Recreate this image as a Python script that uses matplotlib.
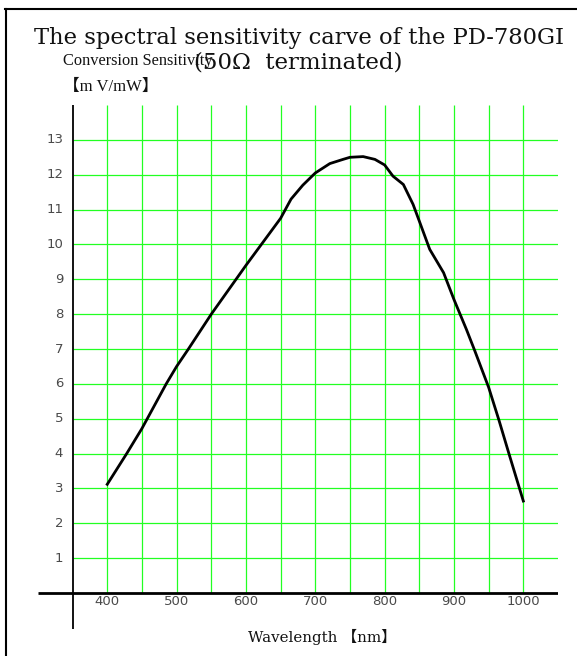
import numpy as np
import matplotlib
matplotlib.use('Agg')
import matplotlib.pyplot as plt
from matplotlib.lines import Line2D

# curve (wavelength nm, sensitivity mV/mW)
wavelength = [400, 428, 450, 485, 500, 517, 550, 600, 650, 665, 682,
              700, 721, 740, 750, 769, 786, 800, 812, 827, 841, 850, 865, 885,
              900, 918, 930, 950, 965, 980, 1000]
sensitivity = [3.12, 4.0, 4.72, 6.0, 6.5, 7.0, 8.0, 9.4, 10.75, 11.3, 11.7,
               12.05, 12.32, 12.44, 12.5, 12.52, 12.44, 12.28, 11.96, 11.72, 11.15, 10.67, 9.86, 9.19,
               8.42, 7.56, 6.95, 5.9, 4.95, 3.95, 2.64]

x_ticks = [400, 500, 600, 700, 800, 900, 1000]
y_ticks = list(range(1, 14))
x_grid = list(range(400, 1001, 50))

W, H = 577, 656
fig = plt.figure(figsize=(W / 100, H / 100), dpi=100)

def fx(px):
    return px / W

def fy(py):
    return 1 - py / H

# axes box in pixels: 300nm at x=37.9, 1050nm at x=558, y=14 at 105, y=-1.03 at 629
ax = fig.add_axes([fx(37.9), fy(629), (558 - 37.9) / W, (629 - 105) / H])
ax.set_xlim(300, 1050)
ax.set_ylim(-1.03, 14)
ax.axis('off')

green = '#22ff22'
ax.hlines(y_ticks, 350, 1050, colors=green, lw=0.9, zorder=1)
ax.vlines(x_grid, 0, 14, colors=green, lw=0.9, zorder=1)

# axes lines
ax.plot([300, 1050], [0, 0], color='black', lw=2.0, solid_capstyle='butt', zorder=3)
ax.plot([350, 350], [-1.03, 14], color='black', lw=1.3, solid_capstyle='butt', zorder=3)

ax.plot(wavelength, sensitivity, color='black', lw=2.0, zorder=4)

# tick labels
for v in y_ticks:
    ax.text(336.4, v, str(v), ha='right', va='center', fontsize=9.5,
            family='DejaVu Sans', color='#4a4a4a')
for v in x_ticks:
    ax.text(v, -0.25, str(v), ha='center', va='center', fontsize=9.5,
            family='DejaVu Sans', color='#4a4a4a')

# titles
fig.text(fx(299), fy(44), 'The spectral sensitivity carve of the PD-780GI',
         ha='center', va='baseline', fontsize=16.3, family='DejaVu Serif', color='#111111')
fig.text(fx(62.7), fy(65), 'Conversion Sensitivity', ha='left', va='baseline',
         fontsize=11.8, family=['Liberation Serif', 'Noto Sans CJK JP'], color='#111111')
fig.text(fx(298), fy(69), '(50\u03a9  terminated)', ha='center', va='baseline',
         fontsize=16.5, family='DejaVu Serif', color='#111111')
fig.text(fx(63), fy(91), '\u3010m V/mW\u3011', ha='left', va='baseline',
         fontsize=12, family=['Liberation Serif', 'Noto Sans CJK JP'], color='#111111')
fig.text(fx(248.3), fy(641.7), 'Wavelength \u3010nm\u3011', ha='left', va='baseline',
         fontsize=10.8, family=['DejaVu Serif', 'Noto Sans CJK JP'], color='#111111')

# frame
fig.add_artist(Line2D([fx(6), fx(6)], [fy(9), fy(660)], color='black', lw=1.5))
fig.add_artist(Line2D([fx(5), fx(580)], [fy(9), fy(9)], color='black', lw=1.5))

fig.savefig('out.png', dpi=100, facecolor='white')
